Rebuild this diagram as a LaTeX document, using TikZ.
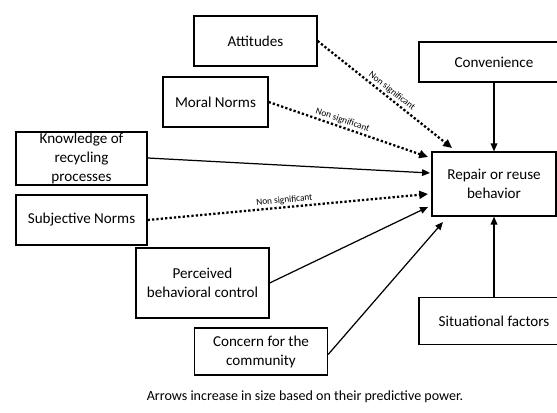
\documentclass[tikz,border=0pt]{standalone}
\usepackage{fontspec}
\setmainfont{Carlito}
\usetikzlibrary{arrows.meta,positioning}

\tikzset{wh/.style 2 args={minimum width=#1*0.02cm,minimum height=#2*0.02cm}}

\begin{document}
\begin{tikzpicture}[x=0.02cm,y=-0.02cm,
        box/.style={draw,line width=0.7pt,align=center,inner sep=0pt,font=\fontsize{8.6}{10.8}\selectfont},
        solidarr/.style={line width=0.7pt,-{Triangle[length=4.5pt,width=3.8pt]}},
        nsarr/.style={line width=1.3pt,dash pattern=on 1.3pt off 1.2pt,-{Triangle[length=5pt,width=4.5pt]}},
        nslabel/.style={font=\fontsize{5.3}{6}\selectfont,sloped,above,inner sep=1pt}]
        \useasboundingbox (0,0) rectangle (557,412);
        % boxes
        \node[box,wh={123}{50}] (att) at (255.5,41) {Attitudes};
        \node[box,wh={150}{40}] (conv) at (494,62) {Convenience};
        \node[box,wh={105}{50}] (moral) at (215.5,102) {Moral Norms};
        \node[box,wh={131}{53}] (know) at (81.5,158.5) {Knowledge of\\recycling\\processes};
        \node[box,wh={131}{50}] (subj) at (81.5,220) {Subjective Norms};
        \node[box,wh={133}{70}] (perc) at (202.5,283) {Perceived\\behavioral control};
        \node[box,wh={133}{47}] (conc) at (261,351.5) {Concern for the\\community};
        \node[box,wh={124}{64}] (rep) at (494,184) {Repair or reuse\\behavior};
        \node[box,wh={150}{47}] (sit) at (494,321) {Situational factors};
        \node[font=\fontsize{8}{9}\selectfont] (note) at (305,397) {Arrows increase in size based on their predictive power.};
        % arrow ends
        \coordinate (attend) at (452,148);
        \coordinate (moralend) at (428,157);
        \coordinate (knowend) at (430,173);
        \coordinate (subjend) at (428,194);
        \coordinate (percend) at (428,207);
        \coordinate (concend) at (443,222);
        % arrows
        \draw[nsarr] (att.east) -- (attend) node[nslabel,pos=0.52]{Non significant};
        \draw[nsarr] (moral.east) -- (moralend) node[nslabel,pos=0.45]{Non significant};
        \draw[solidarr] ([yshift=0.5*0.02cm]know.east) -- (knowend);
        \draw[nsarr] (subj.east) -- (subjend) node[nslabel,pos=0.49]{Non significant};
        \draw[solidarr] (perc.east) -- (percend);
        \draw[solidarr] ([yshift=-3*0.02cm]conc.east) -- (concend);
        \draw[solidarr] (conv.south) -- (rep.north);
        \draw[solidarr] (sit.north) -- (rep.south);
\end{tikzpicture}
\end{document}
